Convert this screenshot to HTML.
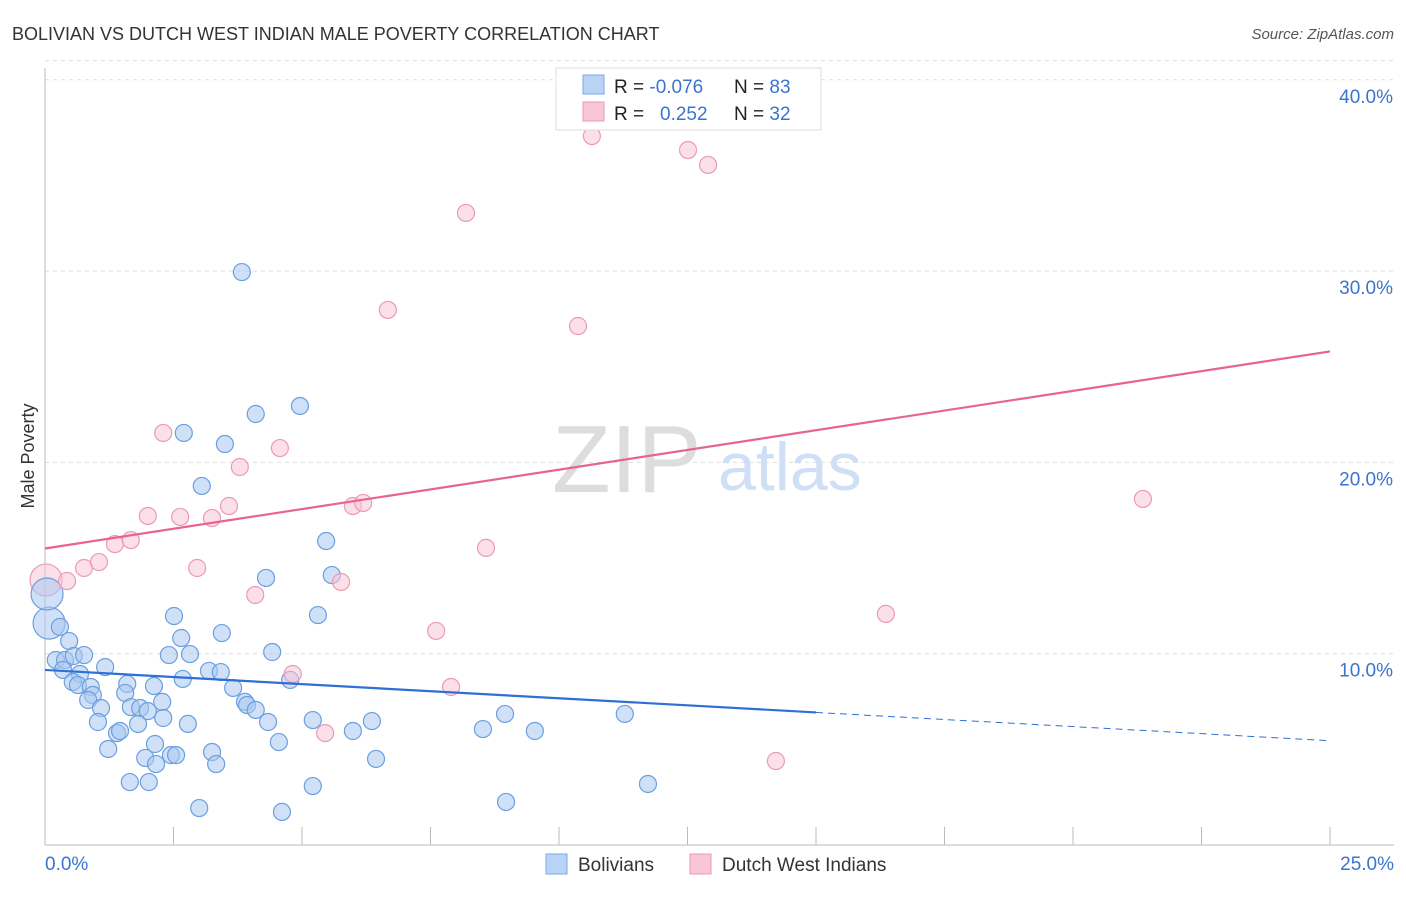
<!DOCTYPE html>
<html><head><meta charset="utf-8"><style>
body{margin:0;background:#fff;font-family:"Liberation Sans",sans-serif}
svg text{font-family:"Liberation Sans",sans-serif}
</style></head><body>
<svg id="c" width="1406" height="892" viewBox="0 0 1406 892">
<text x="12" y="40" font-size="18" fill="#333">BOLIVIAN VS DUTCH WEST INDIAN MALE POVERTY CORRELATION CHART</text>
<text x="1394" y="39" font-size="15" fill="#555" font-style="italic" text-anchor="end">Source: ZipAtlas.com</text>
<text x="34" y="456" font-size="18" fill="#333" text-anchor="middle" transform="rotate(-90 34 456)">Male Poverty</text>
<g id="grid"></g>
<text x="552" y="492" font-size="96" fill="#ddd" font-family="Liberation Serif">ZIP</text>
<text x="718" y="490" font-size="68" fill="#cfdff5">atlas</text>
<g id="pts"></g>
<g id="lines"></g>
<g>
<rect x="556" y="68" width="265" height="62" fill="#fff" stroke="#ddd"/>
<rect x="583" y="75" width="21" height="19" fill="#b8d3f5" stroke="#7aa8e6"/>
<rect x="583" y="102" width="21" height="19" fill="#f8c6d6" stroke="#ec9ab5"/>
<text x="614" y="93" font-size="19" fill="#222">R = <tspan fill="#3a74cf">-0.076</tspan></text>
<text x="734" y="93" font-size="19" fill="#222">N = <tspan fill="#3a74cf">83</tspan></text>
<text x="614" y="120" font-size="19" fill="#222">R = <tspan fill="#3a74cf" x="660">0.252</tspan></text>
<text x="734" y="120" font-size="19" fill="#222">N = <tspan fill="#3a74cf">32</tspan></text>
</g>
<g>
<rect x="546" y="854" width="21" height="20" fill="#b8d3f5" stroke="#7aa8e6"/>
<text x="578" y="871" font-size="19" fill="#333">Bolivians</text>
<rect x="690" y="854" width="21" height="20" fill="#f8c6d6" stroke="#ec9ab5"/>
<text x="722" y="871" font-size="19" fill="#333">Dutch West Indians</text>
</g>
</svg>
<script>
const xTicks=[0,2.5,5,7.5,10,12.5,15,17.5,20,22.5,25];
const yTicks=[10,20,30,40];
const yTickLabels=["10.0%","20.0%","30.0%","40.0%"];
const blueX=[3.83,4.10,4.96,2.70,3.50,3.05,5.47,4.30,5.58,2.51,5.31,3.44,2.65,0.29,0.47,0.21,0.39,0.56,0.76,0.35,0.68,0.54,0.64,0.89,0.93,0.84,1.17,1.60,1.56,1.09,1.03,1.40,1.46,1.23,1.67,1.85,2.00,2.28,2.12,2.30,1.81,2.14,1.95,2.16,2.45,2.55,1.65,2.02,3.00,2.41,2.82,2.68,3.19,3.42,3.66,3.89,3.93,4.10,4.34,4.55,4.42,4.77,2.78,3.25,3.33,5.21,5.99,6.36,6.44,5.21,4.61,8.52,8.95,9.53,11.28,11.73,8.97];
const blueY=[29.95,22.53,22.95,21.54,20.96,18.77,15.89,13.96,14.11,11.97,12.02,11.08,10.82,11.40,10.66,9.67,9.67,9.88,9.93,9.15,8.94,8.52,8.36,8.26,7.84,7.58,9.30,8.42,7.95,7.16,6.43,5.85,5.96,5.02,7.21,7.16,7.00,7.48,8.31,6.64,6.33,5.28,4.55,4.23,4.70,4.70,3.29,3.29,1.93,9.93,9.98,8.68,9.10,9.04,8.21,7.48,7.32,7.06,6.43,5.38,10.09,8.63,6.33,4.86,4.23,6.53,5.96,6.48,4.50,3.08,1.73,6.06,6.85,5.96,6.85,3.19,2.25];
const blueBigX=[0.08,0.04];
const blueBigY=[11.6,13.12];
const pinkX=[0.43,0.76,1.05,1.36,1.67,2.00,2.63,2.30,3.25,3.58,3.79,4.57,2.96,4.09,5.99,6.19,5.76,6.67,4.82,5.45,7.61,7.90,8.19,8.58,10.37,10.64,12.51,12.90,14.22,16.36,21.36];
const pinkY=[13.80,14.48,14.79,15.73,15.94,17.20,17.15,21.54,17.09,17.72,19.76,20.75,14.48,13.07,17.72,17.88,13.75,27.97,8.94,5.85,11.19,8.26,33.04,15.53,27.13,37.06,36.33,35.55,4.39,12.08,18.09];
const pinkBigX=[0.02];
const pinkBigY=[13.85];
const blueTrend=[9.15,-0.148];
const pinkTrend=[15.5,0.412];
const blueSolidEnd=15;
const NS="http://www.w3.org/2000/svg";
const sx=v=>45+v*51.4, sy=v=>845-v*19.13;
function mk(tag,attrs,parent){const e=document.createElementNS(NS,tag);for(const k in attrs)e.setAttribute(k,attrs[k]);parent.appendChild(e);return e;}
const grid=document.getElementById('grid');
yTicks.forEach((t,i)=>{
 const l=mk('line',{x1:45,x2:1394,y1:sy(t),y2:sy(t),stroke:'#ddd','stroke-dasharray':'4,4'},grid);
 
 
 const tx=mk('text',{x:1393,y:sy(t)+23,'font-size':19,fill:'#3a74cf','text-anchor':'end'},grid);
 tx.textContent=yTickLabels[i];
 
 
});
mk('line',{x1:45,x2:1394,y1:sy(40)-19,y2:sy(40)-19,stroke:'#ddd','stroke-dasharray':'4,4'},grid);
const ax=mk('line',{x1:45,x2:45,y1:68,y2:845,stroke:'#bbb'},grid);


const bx=mk('line',{x1:45,x2:1394,y1:845,y2:845,stroke:'#bbb'},grid);


xTicks.forEach(t=>{
 const l=mk('line',{x1:sx(t),x2:sx(t),y1:827,y2:845,stroke:'#bbb'},grid);
 
 
});
const xl0=mk('text',{x:45,y:870,'font-size':19,fill:'#3a74cf'},grid);xl0.textContent=xTicks[0].toFixed(1)+'%';


const xl1=mk('text',{x:1394,y:870,'font-size':19,fill:'#3a74cf','text-anchor':'end'},grid);xl1.textContent=xTicks[xTicks.length-1].toFixed(1)+'%';


const pts=document.getElementById('pts');
function dots(X,Y,r,fill,stroke,name){X.forEach((v,i)=>{const c=mk('circle',{cx:sx(v),cy:sy(Y[i]),r:r,fill:fill,'fill-opacity':0.55,stroke:stroke,'stroke-width':1.2},pts);
 
 });}
dots(pinkBigX,pinkBigY,16,'#f8c6d6','#ec9ab5','dutch-point');
dots(blueBigX,blueBigY,16,'#a9c8f0','#6a9fe0','bolivian-point');
dots(blueX,blueY,8.5,'#a9c8f0','#6a9fe0','bolivian-point');
dots(pinkX,pinkY,8.5,'#f8c6d6','#ec9ab5','dutch-point');
const lines=document.getElementById('lines');
const f=(t,x)=>t[0]+t[1]*x;
const b1=mk('line',{x1:sx(0),y1:sy(f(blueTrend,0)),x2:sx(blueSolidEnd),y2:sy(f(blueTrend,blueSolidEnd)),stroke:'#2f6fd6','stroke-width':2.2},lines);


const b2=mk('line',{x1:sx(blueSolidEnd),y1:sy(f(blueTrend,blueSolidEnd)),x2:sx(25),y2:sy(f(blueTrend,25)),stroke:'#2f6fd6','stroke-width':1,'stroke-dasharray':'7,5'},lines);


const p1=mk('line',{x1:sx(0),y1:sy(f(pinkTrend,0)),x2:sx(25),y2:sy(f(pinkTrend,25)),stroke:'#e8638f','stroke-width':2.2},lines);


</script>
</body></html>
